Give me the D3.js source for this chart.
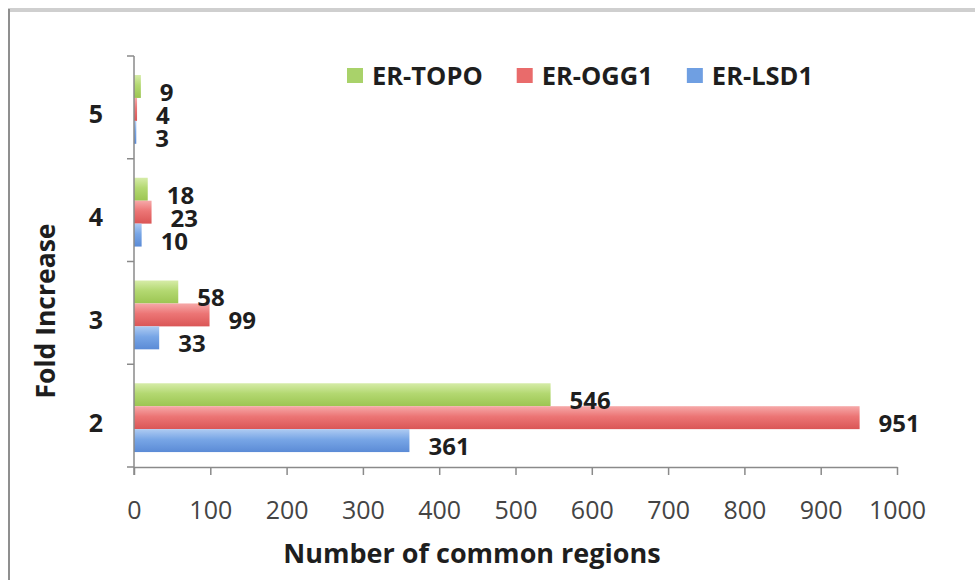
<!DOCTYPE html>
<html>
<head>
<meta charset="utf-8">
<script src="https://cdn.jsdelivr.net/npm/d3@7"></script>
<style>
  html, body { margin: 0; padding: 0; background: #fff; }
  svg { display: block; font-family: "Open Sans", "DejaVu Sans", sans-serif; }
</style>
</head>
<body>
<svg id="chart" width="975" height="580"></svg>
<script>
// Fold-increase categories (top to bottom) and series
const categories = ["5", "4", "3", "2"];
const seriesNames = ["ER-TOPO", "ER-OGG1", "ER-LSD1"];
const erTopo = [9, 18, 58, 546];
const erOgg1 = [4, 23, 99, 951];
const erLsd1 = [3, 10, 33, 361];
const xTicks = [0, 100, 200, 300, 400, 500, 600, 700, 800, 900, 1000];
const xTitle = "Number of common regions";
const yTitle = "Fold Increase";

const seriesValues = [erTopo, erOgg1, erLsd1];
const gradients = [
  ["#d6eca8", "#b3d871", "#9cc552"],
  ["#f6a9a9", "#ec7575", "#da5656"],
  ["#aecbf2", "#78a6e6", "#5b8bd6"]
];
const swatch = ["#a9d26a", "#e96b6b", "#6f9fe2"];

const svg = d3.select("#chart");

// Outer frame
svg.append("line").attr("x1", 8).attr("x2", 975).attr("y1", 10).attr("y2", 10)
  .attr("stroke", "#cfcfcf").attr("stroke-width", 4);
svg.append("line").attr("x1", 9).attr("x2", 9).attr("y1", 9).attr("y2", 580)
  .attr("stroke", "#8f8f8f").attr("stroke-width", 2);

// Gradients for the bars
const defs = svg.append("defs");
seriesNames.forEach((s, i) => {
  const g = defs.append("linearGradient").attr("id", "grad" + i)
    .attr("x1", 0).attr("x2", 0).attr("y1", 0).attr("y2", 1);
  g.append("stop").attr("offset", "0%").attr("stop-color", gradients[i][0]);
  g.append("stop").attr("offset", "45%").attr("stop-color", gradients[i][1]);
  g.append("stop").attr("offset", "100%").attr("stop-color", gradients[i][2]);
});

const x = d3.scaleLinear().domain([0, 1000]).range([134, 897]);
const y = d3.scaleBand().domain(categories).range([56, 467]).padding(0);
const ySub = d3.scaleBand().domain(seriesNames).range([0, y.bandwidth()])
  .paddingInner(0).paddingOuter(0.74).align(0.56);

const axisColor = "#8a8a8a";

// Bars
const rows = categories.map((c, ci) => ({
  cat: c,
  vals: seriesNames.map((s, si) => ({ series: s, si, value: seriesValues[si][ci] }))
}));

const groups = svg.append("g").selectAll("g").data(rows).join("g")
  .attr("transform", d => `translate(0,${y(d.cat)})`);

groups.selectAll("rect").data(d => d.vals).join("rect")
  .attr("x", x(0))
  .attr("y", d => ySub(d.series))
  .attr("width", d => x(d.value) - x(0))
  .attr("height", ySub.bandwidth())
  .attr("fill", d => `url(#grad${d.si})`);

groups.selectAll("text").data(d => d.vals).join("text")
  .attr("x", d => x(d.value) + 19)
  .attr("y", d => ySub(d.series) + ySub.bandwidth() / 2 + 5)
  .attr("dominant-baseline", "central")
  .attr("font-size", 24)
  .attr("font-weight", "bold")
  .attr("fill", "#1e1e1e")
  .text(d => d.value);

// X axis
const xAxis = svg.append("g").attr("transform", "translate(0,467)")
  .call(d3.axisBottom(x).tickValues(xTicks).tickSize(8).tickSizeOuter(0).tickFormat(d3.format("d")));
xAxis.select(".domain").attr("stroke", axisColor).attr("stroke-width", 1.5);
xAxis.selectAll(".tick line").attr("stroke", axisColor).attr("stroke-width", 1.5);
xAxis.selectAll(".tick text")
  .attr("y", 42).attr("dy", null)
  .attr("dominant-baseline", "central")
  .attr("font-size", 25)
  .attr("font-family", "\"Open Sans\", sans-serif")
  .attr("fill", "#444");

// Y axis: line, boundary ticks, category labels
const yAxis = svg.append("g");
yAxis.append("line").attr("x1", x(0)).attr("x2", x(0))
  .attr("y1", y.range()[0]).attr("y2", y.range()[1] + 8)
  .attr("stroke", axisColor).attr("stroke-width", 1.5);
const bounds = categories.map(c => y(c)).concat([y.range()[1]]);
yAxis.selectAll("line.tick").data(bounds).join("line").attr("class", "tick")
  .attr("x1", x(0) - 7).attr("x2", x(0))
  .attr("y1", d => d).attr("y2", d => d)
  .attr("stroke", axisColor).attr("stroke-width", 1.5);
yAxis.selectAll("text").data(categories).join("text")
  .attr("x", 103)
  .attr("y", d => y(d) + y.bandwidth() / 2 + 6)
  .attr("text-anchor", "end")
  .attr("dominant-baseline", "central")
  .attr("font-size", 25)
  .attr("font-weight", "bold")
  .attr("fill", "#1e1e1e")
  .text(d => d);

// Axis titles
svg.append("text")
  .attr("x", 472).attr("y", 563)
  .attr("text-anchor", "middle")
  .attr("font-size", 27)
  .attr("font-weight", "bold")
  .attr("fill", "#1e1e1e")
  .text(xTitle);

svg.append("text")
  .attr("transform", "translate(55,311) rotate(-90)")
  .attr("text-anchor", "middle")
  .attr("font-size", 26.5)
  .attr("font-weight", "bold")
  .attr("fill", "#1e1e1e")
  .text(yTitle);

// Legend
const legend = svg.append("g");
let lx = 347;
seriesNames.forEach((s, i) => {
  legend.append("rect").attr("x", lx).attr("y", 68).attr("width", 16).attr("height", 15)
    .attr("fill", swatch[i]);
  const t = legend.append("text")
    .attr("x", lx + 25).attr("y", 85)
    .attr("font-size", 25.5)
    .attr("font-weight", "bold")
    .attr("fill", "#1e1e1e")
    .text(s);
  lx += 25 + t.node().getComputedTextLength() + 34;
});
</script>
</body>
</html>
